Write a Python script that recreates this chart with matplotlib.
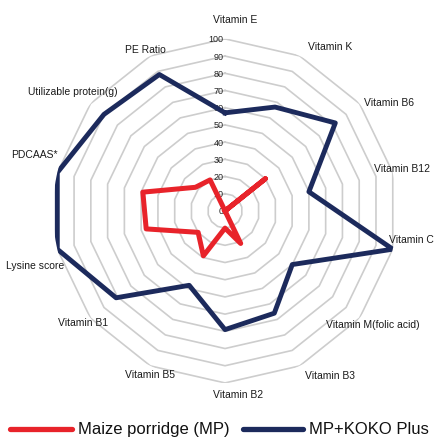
import numpy as np
import matplotlib
matplotlib.use("Agg")
import matplotlib.pyplot as plt
from matplotlib.lines import Line2D

plt.rcParams['font.family'] = ['Liberation Sans', 'DejaVu Sans']

# Data (clockwise from top)
categories = ['Vitamin E', 'Vitamin K', 'Vitamin B6', 'Vitamin B12', 'Vitamin C',
              'Vitamin M(folic acid)', 'Vitamin B3', 'Vitamin B2', 'Vitamin B5',
              'Vitamin B1', 'Lysine score', 'PDCAAS*', 'Utilizable protein(g)',
              'PE Ratio']
maize = [0, 0, 30, 0, 0, 0, 21, 10, 29, 20, 47, 49, 22, 20]
koko = [57, 67, 82, 50, 100, 50, 66, 69, 48, 81, 100, 100, 90, 88]
ring_levels = [0, 10, 20, 30, 40, 50, 60, 70, 80, 90, 100]
series_names = ['Maize porridge (MP)', 'MP+KOKO Plus']

# small nudges (pixels) so the category labels sit where Excel put them
label_nudge = [(10, 3), (23, -6), (16, -9), (-8, 1), (2, 14), (0, 5), (23, 6),
               (13, 6), (7, 7), (6, 7), (-5, -12), (-6, 15), (-4, 2), (2, -9)]

red = '#e8232a'
navy = '#1c2a5c'
grid_col = '#cdcdcd'

n = len(categories)
angles = np.linspace(0, 2 * np.pi, n, endpoint=False)
closed = np.append(angles, angles[0])

fig = plt.figure(figsize=(4.35, 4.39), dpi=100)
ax = fig.add_axes([0.1218, 0.1253, 0.791, 0.784], projection='polar')
ax.set_theta_offset(np.pi / 2)
ax.set_theta_direction(-1)
ax.set_ylim(0, 100)
ax.grid(False)
ax.spines['polar'].set_visible(False)
ax.set_xticks([])
ax.set_yticks([])
ax.patch.set_alpha(0)

# polygon gridlines
for lvl in ring_levels[1:]:
    ax.plot(closed, [lvl] * (n + 1), color=grid_col, lw=1.2, zorder=1)

# ring value labels along the top axis
for lvl in ring_levels:
    ax.annotate(str(lvl), xy=(0, lvl), xytext=(-1, 0), textcoords='offset points',
                ha='right', va='center', fontsize=6.5, color='#222222', zorder=2,
                annotation_clip=False)

# series
ax.plot(closed, maize + maize[:1], color=red, lw=3.6, solid_joinstyle='round', zorder=3)
ax.plot(closed, koko + koko[:1], color=navy, lw=3.5, solid_joinstyle='round', zorder=4)

# category labels
for a, lab, (dx, dy) in zip(angles, categories, label_nudge):
    ax.annotate(lab, xy=(a, 110), xytext=(dx, dy), textcoords='offset pixels',
                ha='center', va='center', fontsize=7.5, color='#1a1a1a',
                annotation_clip=False)

# legend drawn by hand (different handle positions like the source)
ly = 9 / 439
fig.add_artist(Line2D([10 / 435, 72 / 435], [ly, ly], color=red, lw=3.8,
                      solid_capstyle='round'))
fig.text(78 / 435, ly, series_names[0], ha='left', va='center', fontsize=12,
         color='#111111')
fig.add_artist(Line2D([243 / 435, 303 / 435], [ly, ly], color=navy, lw=3.8,
                      solid_capstyle='round'))
fig.text(309 / 435, ly, series_names[1], ha='left', va='center', fontsize=12,
         color='#111111')

plt.savefig('out.png', dpi=100)
